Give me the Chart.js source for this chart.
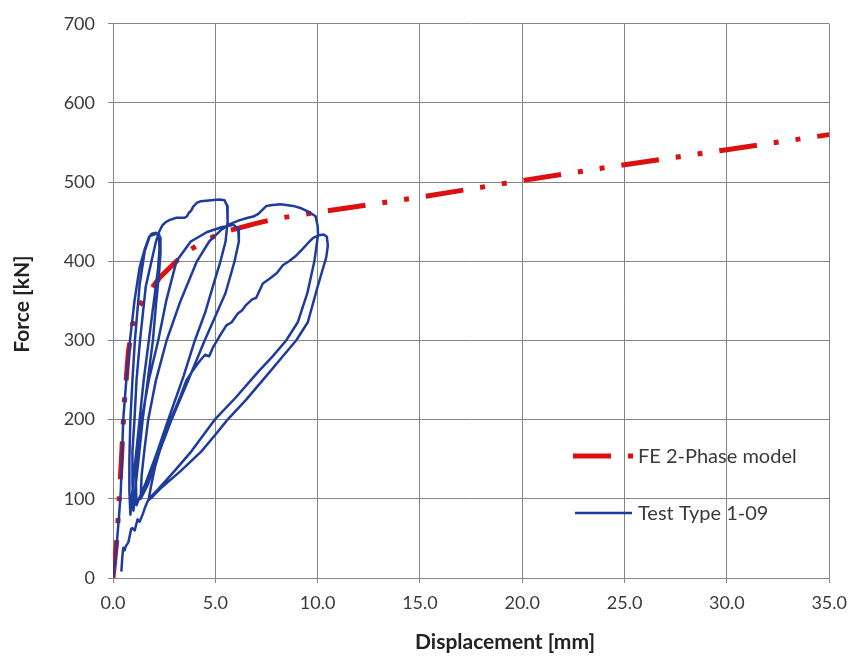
<!DOCTYPE html>
<html>
<head>
<meta charset="utf-8">
<title>Force - Displacement</title>
<script src="https://cdn.jsdelivr.net/npm/chart.js@4.4.1/dist/chart.umd.min.js"></script>
<style>
  html, body { margin: 0; padding: 0; background: #fff; }
  #wrap { width: 856px; height: 660px; }
</style>
</head>
<body>
<div id="wrap"><canvas id="fdChart" width="856" height="660"></canvas></div>
<script>
/* =========================
   Data
========================= */

const xTicks = [0, 5, 10, 15, 20, 25, 30, 35];
const yTicks = [0, 100, 200, 300, 400, 500, 600, 700];

// FE 2-phase model
const feDisp  = [0, 0.2, 0.42, 0.55, 0.75, 0.95, 1.2, 1.5, 1.75, 2.3, 2.9, 3.5, 4.4, 5.4, 7.0, 8.0, 9.0, 10.0, 15, 20, 25, 30, 35];
const feForce = [0, 52, 154, 220, 285, 320, 340, 352, 361, 380, 395, 410, 425, 437, 448, 454, 458, 462, 481, 502, 522, 541, 560];

// Test Type 1-09, one array pair per load cycle
const cycle1Disp  = [0, 0.05, 0.1, 0.2, 0.3, 0.38, 0.45, 0.5, 0.65, 0.83, 1.05, 1.3, 1.56, 1.75, 1.9, 2.1, 2.25,
                     2.27, 2.2, 2.0, 1.75, 1.5, 1.3, 1.1, 0.95, 0.9, 0.85];
const cycle1Force = [0, 10, 22, 48, 80, 110, 160, 200, 250, 300, 350, 392, 416, 430, 435, 436, 433,
                     415, 390, 350, 300, 250, 200, 150, 110, 95, 80];

const cycle2Disp  = [0.8, 0.8, 0.85, 0.95, 1.07, 1.3, 1.55, 1.8, 2.15, 2.3,
                     2.32, 2.25, 2.1, 1.95, 1.7, 1.45, 1.25, 1.1, 1.0];
const cycle2Force = [110, 150, 200, 250, 300, 370, 413, 432, 435, 430,
                     410, 385, 345, 300, 250, 200, 150, 115, 85];

const cycle3Disp  = [0.95, 0.95, 1.05, 1.15, 1.32, 1.6, 1.88, 2.1, 2.25, 2.4, 2.55, 2.75, 3.1, 3.5, 3.62, 3.7, 3.82, 3.92, 4.1, 4.3, 4.8, 5.2, 5.45, 5.58,
                     5.6, 5.5, 5.25, 4.9, 4.5, 4.0, 3.45, 2.7, 2.1, 1.6, 1.3, 1.15];
const cycle3Force = [120, 160, 200, 250, 300, 368, 400, 425, 437, 445, 449, 452, 455, 455, 457, 461, 464, 469, 474, 476, 477, 478, 477, 470,
                     450, 425, 400, 370, 335, 300, 255, 200, 155, 120, 102, 92];

const cycle4Disp  = [1.12, 1.2, 1.4, 1.75, 2.21, 2.6, 3.1, 3.8, 4.6, 5.3, 5.9, 6.12,
                     6.15, 5.94, 5.5, 4.48, 3.6, 2.86, 2.2, 1.7, 1.35];
const cycle4Force = [120, 150, 200, 250, 300, 350, 400, 425, 437, 443, 446, 441,
                     425, 400, 360, 300, 245, 200, 155, 118, 100];

const cycle5Disp  = [1.4, 1.55, 1.72, 2.1, 2.62, 3.3, 4.1, 4.7, 5.3, 5.7, 6.2, 6.6, 6.9, 7.1, 7.3, 7.5, 7.8, 8.2, 8.8, 9.2, 9.6, 9.9, 10.0, 10.02,
                     9.95, 9.84, 9.5, 9.03, 8.46, 7.8, 7.08, 6.0, 4.97, 4.4, 3.83, 3.0, 2.2, 1.75];
const cycle5Force = [130, 165, 200, 250, 300, 350, 400, 425, 440, 447, 452, 455, 457, 460, 465, 470, 471, 472, 470, 467, 462, 457, 445, 434,
                     420, 400, 360, 323, 300, 280, 260, 228, 200, 180, 160, 135, 112, 100];

const cycle6Disp  = [1.85, 2.05, 2.45, 2.9, 3.3, 3.59, 3.9, 4.24, 4.5, 4.7, 4.9, 5.2, 5.54, 5.8, 6.1, 6.3, 6.51, 6.8, 7.0, 7.32, 7.6, 8.0, 8.3, 8.6, 8.9, 9.28, 9.6, 9.8, 10.09, 10.3, 10.45,
                     10.5, 10.42, 10.25, 10.0, 9.52, 8.95, 8.3, 7.65, 6.5, 5.6, 5.0, 4.32, 3.3, 2.4, 1.9, 1.71, 1.55, 1.46, 1.3, 1.2, 1.06, 0.95, 0.89, 0.75, 0.62, 0.57, 0.5, 0.45, 0.41];
const cycle6Force = [115, 140, 175, 205, 230, 250, 262, 274, 282, 280, 292, 305, 319, 323, 334, 338, 345, 352, 354, 372, 377, 385, 395, 400, 406, 416, 425, 430, 433, 434, 431,
                     420, 405, 390, 368, 323, 300, 280, 260, 225, 200, 181, 160, 135, 115, 102, 98, 88, 81, 71, 74, 60, 63, 62, 45, 40, 35, 38, 25, 8];

/* =========================
   Helpers
========================= */

function toPoints(xs, ys) {
  return xs.map((x, i) => ({ x, y: ys[i] }));
}

const testPoints = [
  toPoints(cycle1Disp, cycle1Force),
  toPoints(cycle2Disp, cycle2Force),
  toPoints(cycle3Disp, cycle3Force),
  toPoints(cycle4Disp, cycle4Force),
  toPoints(cycle5Disp, cycle5Force),
  toPoints(cycle6Disp, cycle6Force)
].flat();

const FONT = "Lato, 'Open Sans', sans-serif";
const GRID = "#858585";
const TEXT = "#3a3a3a";

/* =========================
   Plugins
========================= */

// legend sits inside the plot, lower right
const insideLegend = {
  id: "insideLegend",
  afterDatasetsDraw(chart) {
    const { ctx } = chart;
    const rows = [
      { ds: chart.data.datasets[0], x0: 573, x1: 633, y: 456 },
      { ds: chart.data.datasets[1], x0: 575, x1: 632, y: 513 }
    ];
    ctx.save();
    rows.forEach((r) => {
      ctx.beginPath();
      ctx.strokeStyle = r.ds.borderColor;
      ctx.lineWidth = r.ds.borderWidth;
      ctx.lineCap = "butt";
      ctx.setLineDash(r.ds.borderDash || []);
      ctx.moveTo(r.x0, r.y);
      ctx.lineTo(r.x1, r.y);
      ctx.stroke();
      ctx.setLineDash([]);
      ctx.fillStyle = TEXT;
      ctx.font = `20px ${FONT}`;
      ctx.textAlign = "left";
      ctx.textBaseline = "middle";
      ctx.fillText(r.ds.label, 638, r.y + 1);
    });
    ctx.restore();
  }
};

// axis titles
const axisTitles = {
  id: "axisTitles",
  afterDraw(chart) {
    const { ctx } = chart;
    ctx.save();
    ctx.fillStyle = "#222";
    ctx.font = `bold 21px ${FONT}`;
    ctx.textAlign = "center";
    ctx.textBaseline = "middle";
    ctx.fillText("Displacement [mm]", 505, 642);
    ctx.translate(22, 304);
    ctx.rotate(-Math.PI / 2);
    ctx.fillText("Force [kN]", 0, 0);
    ctx.restore();
  }
};

/* =========================
   Chart
========================= */

new Chart(document.getElementById("fdChart"), {
  type: "scatter",
  data: {
    datasets: [
      {
        label: "FE 2-Phase model",
        data: toPoints(feDisp, feForce),
        showLine: true,
        borderColor: "#dc1010",
        borderWidth: 5,
        borderDash: [38, 17, 5, 17, 5, 17],
        borderCapStyle: "butt",
        pointRadius: 0,
        tension: 0,
        order: 1
      },
      {
        label: "Test Type 1-09",
        data: testPoints,
        showLine: true,
        borderColor: "#1e3c9c",
        borderWidth: 2.5,
        borderJoinStyle: "round",
        pointRadius: 0,
        tension: 0,
        order: 0
      }
    ]
  },
  options: {
    responsive: false,
    devicePixelRatio: 1,
    animation: false,
    events: [],
    layout: { padding: { top: 19, right: 25, left: 0, bottom: 0 } },
    plugins: {
      legend: { display: false },
      tooltip: { enabled: false }
    },
    scales: {
      x: {
        type: "linear",
        min: 0,
        max: 35,
        afterBuildTicks: (s) => { s.ticks = xTicks.map((v) => ({ value: v })); },
        afterFit: (s) => { s.height = 82; },
        ticks: {
          callback: (v) => Number(v).toFixed(1),
          color: TEXT,
          font: { family: FONT, size: 18 },
          padding: 9,
          maxRotation: 0
        },
        grid: { color: GRID, lineWidth: 1, tickLength: 5 },
        border: { color: GRID, width: 1 }
      },
      y: {
        type: "linear",
        min: 0,
        max: 700,
        afterBuildTicks: (s) => { s.ticks = yTicks.map((v) => ({ value: v })); },
        afterFit: (s) => { s.width = 113; },
        ticks: {
          color: TEXT,
          font: { family: FONT, size: 18 },
          padding: 13
        },
        grid: { color: GRID, lineWidth: 1, tickLength: 5 },
        border: { color: GRID, width: 1 }
      }
    }
  },
  plugins: [insideLegend, axisTitles]
});
</script>
</body>
</html>
